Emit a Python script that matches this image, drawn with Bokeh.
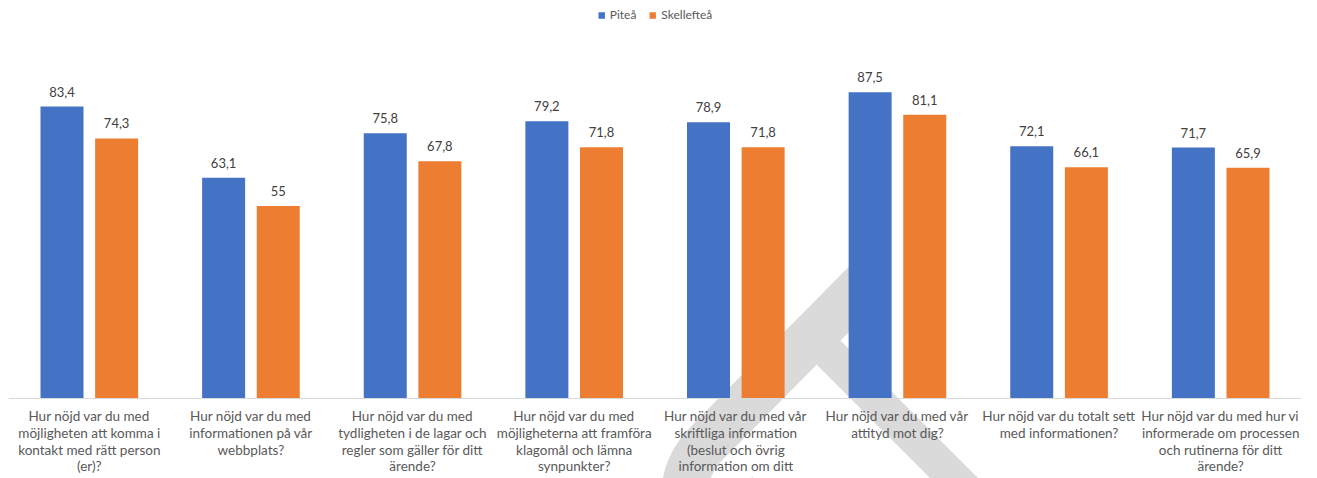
import numpy as np
from bokeh.plotting import figure
from bokeh.models import ColumnDataSource, Range1d, FactorRange, Legend, LegendItem, Span
from bokeh.transform import dodge
from bokeh.core.properties import value
from bokeh.embed import file_html
from bokeh.resources import INLINE

# Survey questions (wrapped as they are printed under each group)
categories = [
    "Hur nöjd var du med\nmöjligheten att komma i\nkontakt med rätt person\n(er)?",
    "Hur nöjd var du med\ninformationen på vår\nwebbplats?",
    "Hur nöjd var du med\ntydligheten i de lagar och\nregler som gäller för ditt\närende?",
    "Hur nöjd var du med\nmöjligheterna att framföra\nklagomål och lämna\nsynpunkter?",
    "Hur nöjd var du med vår\nskriftliga information\n(beslut och övrig\ninformation om ditt\närende)?",
    "Hur nöjd var du med vår\nattityd mot dig?",
    "Hur nöjd var du totalt sett\nmed informationen?",
    "Hur nöjd var du med hur vi\ninformerade om processen\noch rutinerna för ditt\närende?",
]
series_names = ["Piteå", "Skellefteå"]
pitea = [83.4, 63.1, 75.8, 79.2, 78.9, 87.5, 72.1, 71.7]
skelleftea = [74.3, 55, 67.8, 71.8, 71.8, 81.1, 66.1, 65.9]


def fmt(v):
    return f"{v:g}".replace(".", ",")


BLUE = "#4472C4"
ORANGE = "#ED7D31"
FONT = "Lato"

W, H = 1317, 478
LEFT, RIGHT = 8, 16
GROUP_PX = (W - LEFT - RIGHT) / len(categories)
BASE_PX = 398          # zero line, measured from the top of the canvas
PX_PER_UNIT = 3.5

src = ColumnDataSource(dict(
    cat=categories,
    pitea=pitea,
    skelleftea=skelleftea,
    pitea_lbl=[fmt(v) for v in pitea],
    skelleftea_lbl=[fmt(v) for v in skelleftea],
))

p = figure(
    width=W, height=H,
    x_range=FactorRange(factors=categories, range_padding=0),
    y_range=Range1d(-(H - BASE_PX) / PX_PER_UNIT, BASE_PX / PX_PER_UNIT),
    output_backend="svg", toolbar_location=None,
    x_axis_location=None, y_axis_location=None,
    min_border_left=LEFT, min_border_right=RIGHT,
    min_border_top=0, min_border_bottom=0,
    background_fill_color="white", border_fill_color="white",
    outline_line_color=None,
)
p.grid.visible = False


# light grey watermark behind the bars
def to_data(px, py):
    return ((np.asarray(px, float) - LEFT) / GROUP_PX,
            (BASE_PX - np.asarray(py, float)) / PX_PER_UNIT)


theta = np.linspace(np.radians(225), np.radians(180), 16)
hook_px = np.concatenate([[872], 763 + 80 * np.cos(theta), [683]])
hook_py = np.concatenate([[275], 499 + 80 * np.sin(theta), [560]])
hx, hy = to_data(hook_px, hook_py)
p.line(hx, hy, line_color="#DADADA", line_width=46, line_cap="butt", line_join="round")
lx, ly = to_data([805, 1040], [329, 564])
p.line(lx, ly, line_color="#DADADA", line_width=34, line_cap="butt")

off = 0.169
bw = 0.266
r1 = p.vbar(x=dodge("cat", -off, range=p.x_range), top="pitea", width=bw, bottom=0,
            source=src, fill_color=BLUE, line_color=None)
r2 = p.vbar(x=dodge("cat", off, range=p.x_range), top="skelleftea", width=bw, bottom=0,
            source=src, fill_color=ORANGE, line_color=None)

p.add_layout(Span(location=0, dimension="width", line_color="#D9D9D9", line_width=1))

for col, dx in (("pitea", -off), ("skelleftea", off)):
    p.text(x=dodge("cat", dx, range=p.x_range), y=col, text=col + "_lbl", source=src,
           text_align="center", text_baseline="bottom", y_offset=-10,
           text_font=value(FONT), text_font_size="13px", text_color="#404040")

p.text(x="cat", y=-2.6, text="cat", source=src,
       text_align="center", text_baseline="top", text_line_height=1.06,
       text_font=value(FONT), text_font_size="13.5px", text_color="#595959")

legend = Legend(
    items=[LegendItem(label=series_names[0], renderers=[r1]),
           LegendItem(label=series_names[1], renderers=[r2])],
    location="top_center", orientation="horizontal",
    label_text_font=FONT, label_text_font_size="12px", label_text_color="#595959",
    glyph_width=8, glyph_height=8, label_standoff=5, spacing=12,
    padding=0, margin=7, border_line_color=None, background_fill_alpha=0,
)
p.add_layout(legend)

open("out.html", "w").write(file_html(p, INLINE))
